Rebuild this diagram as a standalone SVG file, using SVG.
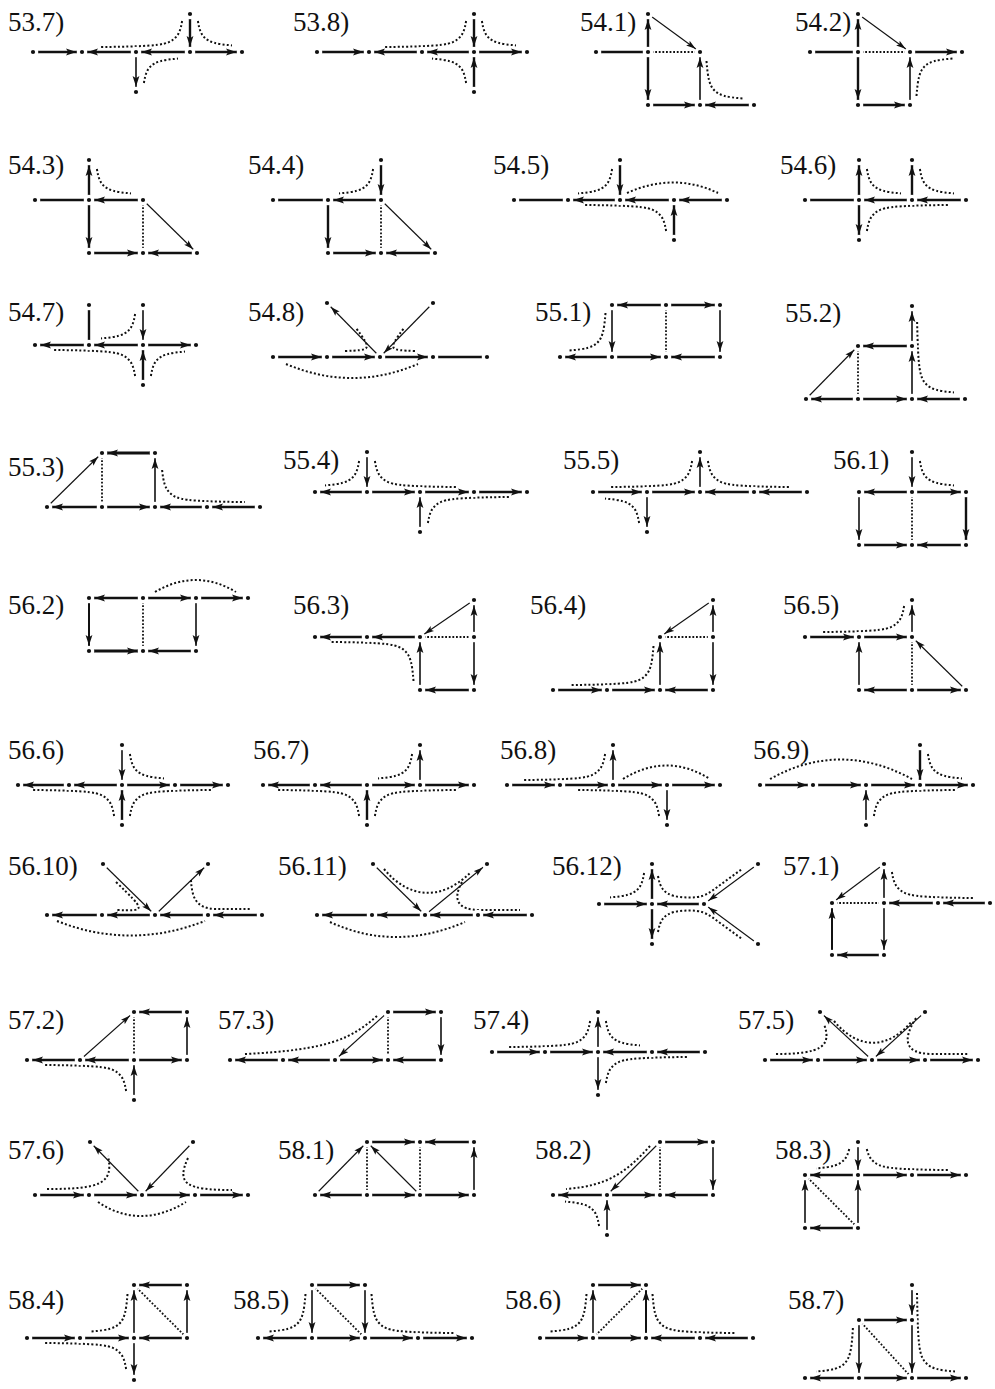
<svg xmlns="http://www.w3.org/2000/svg" width="995" height="1389" viewBox="0 0 995 1389">
<defs>
<marker id="ah" viewBox="0 0 11 8" markerWidth="11" markerHeight="8" refX="16" refY="4" orient="auto" markerUnits="userSpaceOnUse"><path d="M0,0.6 L10.5,4 L0,7.4 L2.2,4 z" fill="#111"/></marker>
<marker id="as" viewBox="0 0 10 7" markerWidth="10" markerHeight="7" refX="15" refY="3.5" orient="auto" markerUnits="userSpaceOnUse"><path d="M0,0.5 L9.5,3.5 L0,6.5 L2,3.5 z" fill="#111"/></marker>
<path id="hA" d="M7.9,-31 C9.2,-22.6 11.1,-17.8 14.5,-14.5 C19,-9.9 25.9,-7.9 42,-6.6" fill="none" stroke="#111" stroke-width="2" stroke-dasharray="2 2.2"/>
<path id="hB" d="M7.9,-31 C9.2,-22.6 11.1,-17.8 14.5,-14.5 C22,-6.9 30.4,-5.8 90,-4.9" fill="none" stroke="#111" stroke-width="2" stroke-dasharray="2 2.2"/>
<path id="hB2" d="M7.1,-37 C8.4,-24.5 10.4,-18.5 14.5,-14.5 C22,-6.9 30.4,-5.8 90,-4.9" fill="none" stroke="#111" stroke-width="2" stroke-dasharray="2 2.2"/>
<path id="hC" d="M6.5,-44 C7.8,-26.3 9.7,-19.2 14.5,-14.5 C19.1,-9.8 26.1,-7.8 43,-6.5" fill="none" stroke="#111" stroke-width="2" stroke-dasharray="2 2.2"/>
<path id="hD" d="M6.5,-44 C7.8,-26.3 9.7,-19.2 14.5,-14.5 C22,-6.9 30.4,-5.8 90,-4.9" fill="none" stroke="#111" stroke-width="2" stroke-dasharray="2 2.2"/>
<path id="hA0" d="M8.8,-26 C10.1,-20.6 11.8,-17.1 14.5,-14.5 C19,-9.9 25.9,-7.9 42,-6.6" fill="none" stroke="#111" stroke-width="2" stroke-dasharray="2 2.2"/>
<path id="hB0" d="M8.8,-26 C10.1,-20.6 11.8,-17.1 14.5,-14.5 C22,-6.9 30.4,-5.8 90,-4.9" fill="none" stroke="#111" stroke-width="2" stroke-dasharray="2 2.2"/>
<path id="hE" d="M5.1,-77 C6.2,-30.4 7.5,-21.4 14.5,-14.5 C19,-9.9 25.9,-7.9 42,-6.6" fill="none" stroke="#111" stroke-width="2" stroke-dasharray="2 2.2"/>
<path id="hF" d="M5,-85 C6,-30.5 7.1,-21.8 14.5,-14.5 C19.1,-9.8 26.1,-7.8 43,-6.5" fill="none" stroke="#111" stroke-width="2" stroke-dasharray="2 2.2"/>
<path id="hG" d="M6.1,-50 C7.3,-27.6 9.2,-19.7 14.5,-14.5 C19.1,-9.8 26.1,-7.8 43,-6.5" fill="none" stroke="#111" stroke-width="2" stroke-dasharray="2 2.2"/>
</defs>
<style>
.lb{font-family:"Liberation Serif","Times New Roman",serif;font-size:27px;fill:#111}
.k{stroke:#111;stroke-width:2.4;fill:none}
.ka{stroke:#111;stroke-width:2.4;fill:none;marker-end:url(#ah)}
.ma{stroke:#111;stroke-width:1.6;fill:none;marker-end:url(#ah)}
.ta{stroke:#111;stroke-width:1.1;fill:none;marker-end:url(#as)}
.d{stroke:#111;stroke-width:2;fill:none;stroke-dasharray:2 2.2}
.s{stroke:#111;stroke-width:1.8;fill:none;stroke-dasharray:1.8 1.8}
.n circle{fill:#111;stroke:#fff;stroke-width:6.4;paint-order:stroke}
</style>
<rect width="995" height="1389" fill="#fff"/>

<g id="q53_7">
<text class="lb" x="8" y="31">53.7)</text>
<g id="q53_7-edges">
<line class="ka" x1="33" y1="52" x2="82" y2="52"/><line class="ka" x1="136" y1="52" x2="82" y2="52"/><line class="ka" x1="190" y1="52" x2="136" y2="52"/><line class="ka" x1="190" y1="52" x2="242" y2="52"/><line class="ka" x1="190" y1="14" x2="190" y2="52"/><line class="ma" x1="136" y1="52" x2="136" y2="92"/>
<use href="#hB" transform="translate(190,52) scale(-1,1)"/><use href="#hA" transform="translate(190,52)"/><use href="#hA" transform="translate(136,52) scale(1,-1)"/>
</g>
<g id="q53_7-a" class="n"><circle cx="33" cy="52" r="2.1"/></g><g id="q53_7-b" class="n"><circle cx="82" cy="52" r="2.1"/></g><g id="q53_7-c" class="n"><circle cx="136" cy="52" r="2.1"/></g><g id="q53_7-d" class="n"><circle cx="190" cy="52" r="2.1"/></g><g id="q53_7-e" class="n"><circle cx="242" cy="52" r="2.1"/></g><g id="q53_7-t" class="n"><circle cx="190" cy="14" r="2.1"/></g><g id="q53_7-f" class="n"><circle cx="136" cy="92" r="2.1"/></g>
</g>

<g id="q53_8">
<text class="lb" x="293" y="31">53.8)</text>
<g id="q53_8-edges">
<line class="ka" x1="317" y1="52" x2="369" y2="52"/><line class="ka" x1="422" y1="52" x2="369" y2="52"/><line class="ka" x1="474" y1="52" x2="422" y2="52"/><line class="ka" x1="474" y1="52" x2="527" y2="52"/><line class="ka" x1="474" y1="14" x2="474" y2="52"/><line class="ka" x1="474" y1="92" x2="474" y2="52"/>
<use href="#hB" transform="translate(474,52) scale(-1,1)"/><use href="#hA" transform="translate(474,52)"/><use href="#hA" transform="translate(474,52) scale(-1,-1)"/>
</g>
<g id="q53_8-a" class="n"><circle cx="317" cy="52" r="2.1"/></g><g id="q53_8-b" class="n"><circle cx="369" cy="52" r="2.1"/></g><g id="q53_8-c" class="n"><circle cx="422" cy="52" r="2.1"/></g><g id="q53_8-d" class="n"><circle cx="474" cy="52" r="2.1"/></g><g id="q53_8-e" class="n"><circle cx="527" cy="52" r="2.1"/></g><g id="q53_8-t" class="n"><circle cx="474" cy="14" r="2.1"/></g><g id="q53_8-f" class="n"><circle cx="474" cy="92" r="2.1"/></g>
</g>

<g id="q54_1">
<text class="lb" x="580" y="31">54.1)</text>
<g id="q54_1-edges">
<line class="k" x1="596" y1="52" x2="648" y2="52"/><line class="ka" x1="648" y1="52" x2="648" y2="14"/><line class="ka" x1="648" y1="52" x2="648" y2="105"/><line class="ta" x1="648" y1="14" x2="700" y2="52"/><line class="s" x1="648" y1="52" x2="700" y2="52"/><line class="ka" x1="648" y1="105" x2="700" y2="105"/><line class="ka" x1="754" y1="105" x2="700" y2="105"/><line class="ma" x1="700" y1="105" x2="700" y2="52"/>
<use href="#hC" transform="translate(700,105)"/>
</g>
<g id="q54_1-l" class="n"><circle cx="596" cy="52" r="2.1"/></g><g id="q54_1-m" class="n"><circle cx="648" cy="52" r="2.1"/></g><g id="q54_1-r" class="n"><circle cx="700" cy="52" r="2.1"/></g><g id="q54_1-t" class="n"><circle cx="648" cy="14" r="2.1"/></g><g id="q54_1-p" class="n"><circle cx="648" cy="105" r="2.1"/></g><g id="q54_1-q" class="n"><circle cx="700" cy="105" r="2.1"/></g><g id="q54_1-s" class="n"><circle cx="754" cy="105" r="2.1"/></g>
</g>

<g id="q54_2">
<text class="lb" x="795" y="31">54.2)</text>
<g id="q54_2-edges">
<line class="k" x1="810" y1="52" x2="858" y2="52"/><line class="ka" x1="858" y1="52" x2="858" y2="14"/><line class="ka" x1="858" y1="52" x2="858" y2="105"/><line class="ta" x1="858" y1="14" x2="910" y2="52"/><line class="s" x1="858" y1="52" x2="910" y2="52"/><line class="ka" x1="910" y1="52" x2="962" y2="52"/><line class="ka" x1="858" y1="105" x2="910" y2="105"/><line class="ma" x1="910" y1="105" x2="910" y2="52"/>
<use href="#hC" transform="translate(910,52) scale(1,-1)"/>
</g>
<g id="q54_2-l" class="n"><circle cx="810" cy="52" r="2.1"/></g><g id="q54_2-m" class="n"><circle cx="858" cy="52" r="2.1"/></g><g id="q54_2-r" class="n"><circle cx="910" cy="52" r="2.1"/></g><g id="q54_2-e" class="n"><circle cx="962" cy="52" r="2.1"/></g><g id="q54_2-t" class="n"><circle cx="858" cy="14" r="2.1"/></g><g id="q54_2-p" class="n"><circle cx="858" cy="105" r="2.1"/></g><g id="q54_2-q" class="n"><circle cx="910" cy="105" r="2.1"/></g>
</g>

<g id="q54_3">
<text class="lb" x="8" y="174">54.3)</text>
<g id="q54_3-edges">
<line class="k" x1="35" y1="200" x2="89" y2="200"/><line class="ka" x1="89" y1="200" x2="89" y2="160"/><line class="ka" x1="143" y1="200" x2="89" y2="200"/><line class="ka" x1="89" y1="200" x2="89" y2="253"/><line class="s" x1="143" y1="200" x2="143" y2="253"/><line class="ta" x1="143" y1="200" x2="197" y2="253"/><line class="ka" x1="89" y1="253" x2="143" y2="253"/><line class="ka" x1="197" y1="253" x2="143" y2="253"/>
<use href="#hA" transform="translate(89,200)"/>
</g>
<g id="q54_3-l" class="n"><circle cx="35" cy="200" r="2.1"/></g><g id="q54_3-m" class="n"><circle cx="89" cy="200" r="2.1"/></g><g id="q54_3-r" class="n"><circle cx="143" cy="200" r="2.1"/></g><g id="q54_3-t" class="n"><circle cx="89" cy="160" r="2.1"/></g><g id="q54_3-p" class="n"><circle cx="89" cy="253" r="2.1"/></g><g id="q54_3-q" class="n"><circle cx="143" cy="253" r="2.1"/></g><g id="q54_3-s" class="n"><circle cx="197" cy="253" r="2.1"/></g>
</g>

<g id="q54_4">
<text class="lb" x="248" y="174">54.4)</text>
<g id="q54_4-edges">
<line class="k" x1="273" y1="200" x2="328" y2="200"/><line class="ka" x1="381" y1="200" x2="328" y2="200"/><line class="ka" x1="381" y1="160" x2="381" y2="200"/><line class="ka" x1="328" y1="200" x2="328" y2="253"/><line class="s" x1="381" y1="200" x2="381" y2="253"/><line class="ta" x1="381" y1="200" x2="435" y2="253"/><line class="ka" x1="328" y1="253" x2="381" y2="253"/><line class="ka" x1="435" y1="253" x2="381" y2="253"/>
<use href="#hA" transform="translate(381,200) scale(-1,1)"/>
</g>
<g id="q54_4-l" class="n"><circle cx="273" cy="200" r="2.1"/></g><g id="q54_4-m" class="n"><circle cx="328" cy="200" r="2.1"/></g><g id="q54_4-r" class="n"><circle cx="381" cy="200" r="2.1"/></g><g id="q54_4-t" class="n"><circle cx="381" cy="160" r="2.1"/></g><g id="q54_4-p" class="n"><circle cx="328" cy="253" r="2.1"/></g><g id="q54_4-q" class="n"><circle cx="381" cy="253" r="2.1"/></g><g id="q54_4-s" class="n"><circle cx="435" cy="253" r="2.1"/></g>
</g>

<g id="q54_5">
<text class="lb" x="493" y="174">54.5)</text>
<g id="q54_5-edges">
<line class="k" x1="514" y1="200" x2="568" y2="200"/><line class="ka" x1="620" y1="200" x2="568" y2="200"/><line class="ka" x1="674" y1="200" x2="620" y2="200"/><line class="ka" x1="727" y1="200" x2="674" y2="200"/><line class="ka" x1="620" y1="160" x2="620" y2="200"/><line class="ka" x1="674" y1="240" x2="674" y2="200"/>
<use href="#hA" transform="translate(620,200) scale(-1,1)"/><path class="d" d="M627,193 Q674,172 718,193"/><use href="#hB" transform="translate(674,200) scale(-1,-1)"/>
</g>
<g id="q54_5-a" class="n"><circle cx="514" cy="200" r="2.1"/></g><g id="q54_5-b" class="n"><circle cx="568" cy="200" r="2.1"/></g><g id="q54_5-c" class="n"><circle cx="620" cy="200" r="2.1"/></g><g id="q54_5-d" class="n"><circle cx="674" cy="200" r="2.1"/></g><g id="q54_5-e" class="n"><circle cx="727" cy="200" r="2.1"/></g><g id="q54_5-t" class="n"><circle cx="620" cy="160" r="2.1"/></g><g id="q54_5-f" class="n"><circle cx="674" cy="240" r="2.1"/></g>
</g>

<g id="q54_6">
<text class="lb" x="780" y="174">54.6)</text>
<g id="q54_6-edges">
<line class="k" x1="805" y1="200" x2="859" y2="200"/><line class="ka" x1="859" y1="200" x2="859" y2="160"/><line class="ka" x1="912" y1="200" x2="859" y2="200"/><line class="ka" x1="912" y1="200" x2="912" y2="160"/><line class="ka" x1="966" y1="200" x2="912" y2="200"/><line class="ka" x1="859" y1="200" x2="859" y2="240"/>
<use href="#hA" transform="translate(859,200)"/><use href="#hA" transform="translate(912,200)"/><use href="#hB" transform="translate(859,200) scale(1,-1)"/>
</g>
<g id="q54_6-a" class="n"><circle cx="805" cy="200" r="2.1"/></g><g id="q54_6-b" class="n"><circle cx="859" cy="200" r="2.1"/></g><g id="q54_6-c" class="n"><circle cx="912" cy="200" r="2.1"/></g><g id="q54_6-d" class="n"><circle cx="966" cy="200" r="2.1"/></g><g id="q54_6-t1" class="n"><circle cx="859" cy="160" r="2.1"/></g><g id="q54_6-t2" class="n"><circle cx="912" cy="160" r="2.1"/></g><g id="q54_6-f" class="n"><circle cx="859" cy="240" r="2.1"/></g>
</g>

<g id="q54_7">
<text class="lb" x="8" y="321">54.7)</text>
<g id="q54_7-edges">
<line class="ka" x1="89" y1="345" x2="35" y2="345"/><line class="ka" x1="143" y1="345" x2="89" y2="345"/><line class="ka" x1="143" y1="345" x2="196" y2="345"/><line class="k" x1="89" y1="305" x2="89" y2="345"/><line class="ma" x1="143" y1="305" x2="143" y2="345"/><line class="ka" x1="143" y1="385" x2="143" y2="345"/>
<use href="#hA" transform="translate(143,345) scale(-1,1)"/><use href="#hA" transform="translate(143,345) scale(1,-1)"/><use href="#hB" transform="translate(143,345) scale(-1,-1)"/>
</g>
<g id="q54_7-a" class="n"><circle cx="35" cy="345" r="2.1"/></g><g id="q54_7-b" class="n"><circle cx="89" cy="345" r="2.1"/></g><g id="q54_7-c" class="n"><circle cx="143" cy="345" r="2.1"/></g><g id="q54_7-d" class="n"><circle cx="196" cy="345" r="2.1"/></g><g id="q54_7-t1" class="n"><circle cx="89" cy="305" r="2.1"/></g><g id="q54_7-t2" class="n"><circle cx="143" cy="305" r="2.1"/></g><g id="q54_7-f" class="n"><circle cx="143" cy="385" r="2.1"/></g>
</g>

<g id="q54_8">
<text class="lb" x="248" y="321">54.8)</text>
<g id="q54_8-edges">
<line class="ka" x1="273" y1="357" x2="327" y2="357"/><line class="ka" x1="327" y1="357" x2="380" y2="357"/><line class="ka" x1="380" y1="357" x2="433" y2="357"/><line class="k" x1="433" y1="357" x2="487" y2="357"/><line class="ta" x1="380" y1="357" x2="327" y2="303"/><line class="ta" x1="433" y1="303" x2="380" y2="357"/>
<path class="d" d="M345,351 C372,350 372,350 356,328"/><path class="d" d="M415,351 C388,350 388,350 404,328"/><path class="d" d="M286,364 Q352,392 418,364"/>
</g>
<g id="q54_8-a" class="n"><circle cx="273" cy="357" r="2.1"/></g><g id="q54_8-b" class="n"><circle cx="327" cy="357" r="2.1"/></g><g id="q54_8-c" class="n"><circle cx="380" cy="357" r="2.1"/></g><g id="q54_8-d" class="n"><circle cx="433" cy="357" r="2.1"/></g><g id="q54_8-e" class="n"><circle cx="487" cy="357" r="2.1"/></g><g id="q54_8-t1" class="n"><circle cx="327" cy="303" r="2.1"/></g><g id="q54_8-t2" class="n"><circle cx="433" cy="303" r="2.1"/></g>
</g>

<g id="q55_1">
<text class="lb" x="535" y="321">55.1)</text>
<g id="q55_1-edges">
<line class="ka" x1="666" y1="305" x2="612" y2="305"/><line class="ka" x1="666" y1="305" x2="720" y2="305"/><line class="ma" x1="612" y1="305" x2="612" y2="357"/><line class="s" x1="666" y1="305" x2="666" y2="357"/><line class="ma" x1="720" y1="305" x2="720" y2="357"/><line class="ka" x1="612" y1="357" x2="560" y2="357"/><line class="ka" x1="612" y1="357" x2="666" y2="357"/><line class="ka" x1="720" y1="357" x2="666" y2="357"/>
<use href="#hC" transform="translate(612,357) scale(-1,1)"/>
</g>
<g id="q55_1-tl" class="n"><circle cx="612" cy="305" r="2.1"/></g><g id="q55_1-tm" class="n"><circle cx="666" cy="305" r="2.1"/></g><g id="q55_1-tr" class="n"><circle cx="720" cy="305" r="2.1"/></g><g id="q55_1-a" class="n"><circle cx="560" cy="357" r="2.1"/></g><g id="q55_1-bl" class="n"><circle cx="612" cy="357" r="2.1"/></g><g id="q55_1-bm" class="n"><circle cx="666" cy="357" r="2.1"/></g><g id="q55_1-br" class="n"><circle cx="720" cy="357" r="2.1"/></g>
</g>

<g id="q55_2">
<text class="lb" x="785" y="322">55.2)</text>
<g id="q55_2-edges">
<line class="ka" x1="912" y1="346" x2="858" y2="346"/><line class="ma" x1="912" y1="346" x2="912" y2="306"/><line class="ta" x1="806" y1="399" x2="858" y2="346"/><line class="s" x1="858" y1="346" x2="858" y2="399"/><line class="ma" x1="912" y1="399" x2="912" y2="346"/><line class="ka" x1="858" y1="399" x2="806" y2="399"/><line class="ka" x1="858" y1="399" x2="912" y2="399"/><line class="ka" x1="965" y1="399" x2="912" y2="399"/>
<use href="#hE" transform="translate(912,399)"/>
</g>
<g id="q55_2-t" class="n"><circle cx="912" cy="306" r="2.1"/></g><g id="q55_2-ml" class="n"><circle cx="858" cy="346" r="2.1"/></g><g id="q55_2-mr" class="n"><circle cx="912" cy="346" r="2.1"/></g><g id="q55_2-a" class="n"><circle cx="806" cy="399" r="2.1"/></g><g id="q55_2-b" class="n"><circle cx="858" cy="399" r="2.1"/></g><g id="q55_2-c" class="n"><circle cx="912" cy="399" r="2.1"/></g><g id="q55_2-d" class="n"><circle cx="965" cy="399" r="2.1"/></g>
</g>

<g id="q55_3">
<text class="lb" x="8" y="476">55.3)</text>
<g id="q55_3-edges">
<line class="ka" x1="155" y1="453" x2="102" y2="453" style="stroke-width:3"/><line class="ta" x1="47" y1="507" x2="102" y2="453"/><line class="s" x1="102" y1="453" x2="102" y2="507"/><line class="ma" x1="155" y1="507" x2="155" y2="453"/><line class="ka" x1="102" y1="507" x2="47" y2="507"/><line class="ka" x1="102" y1="507" x2="155" y2="507"/><line class="ka" x1="207" y1="507" x2="155" y2="507"/><line class="ka" x1="260" y1="507" x2="207" y2="507"/>
<use href="#hB2" transform="translate(155,507)"/>
</g>
<g id="q55_3-tl" class="n"><circle cx="102" cy="453" r="2.1"/></g><g id="q55_3-tr" class="n"><circle cx="155" cy="453" r="2.1"/></g><g id="q55_3-a" class="n"><circle cx="47" cy="507" r="2.1"/></g><g id="q55_3-b" class="n"><circle cx="102" cy="507" r="2.1"/></g><g id="q55_3-c" class="n"><circle cx="155" cy="507" r="2.1"/></g><g id="q55_3-d" class="n"><circle cx="207" cy="507" r="2.1"/></g><g id="q55_3-e" class="n"><circle cx="260" cy="507" r="2.1"/></g>
</g>

<g id="q55_4">
<text class="lb" x="283" y="469">55.4)</text>
<g id="q55_4-edges">
<line class="ka" x1="367" y1="492" x2="315" y2="492"/><line class="ka" x1="367" y1="492" x2="420" y2="492"/><line class="ka" x1="420" y1="492" x2="474" y2="492"/><line class="ka" x1="474" y1="492" x2="527" y2="492"/><line class="ma" x1="367" y1="452" x2="367" y2="492"/><line class="ma" x1="420" y1="532" x2="420" y2="492"/>
<use href="#hA" transform="translate(367,492) scale(-1,1)"/><use href="#hB" transform="translate(367,492)"/><use href="#hB" transform="translate(420,492) scale(1,-1)"/>
</g>
<g id="q55_4-t" class="n"><circle cx="367" cy="452" r="2.1"/></g><g id="q55_4-a" class="n"><circle cx="315" cy="492" r="2.1"/></g><g id="q55_4-b" class="n"><circle cx="367" cy="492" r="2.1"/></g><g id="q55_4-c" class="n"><circle cx="420" cy="492" r="2.1"/></g><g id="q55_4-d" class="n"><circle cx="474" cy="492" r="2.1"/></g><g id="q55_4-e" class="n"><circle cx="527" cy="492" r="2.1"/></g><g id="q55_4-f" class="n"><circle cx="420" cy="532" r="2.1"/></g>
</g>

<g id="q55_5">
<text class="lb" x="563" y="469">55.5)</text>
<g id="q55_5-edges">
<line class="ka" x1="593" y1="492" x2="647" y2="492"/><line class="ka" x1="647" y1="492" x2="700" y2="492"/><line class="ka" x1="754" y1="492" x2="700" y2="492"/><line class="ka" x1="807" y1="492" x2="754" y2="492"/><line class="ma" x1="700" y1="492" x2="700" y2="452"/><line class="ma" x1="647" y1="492" x2="647" y2="532"/>
<use href="#hB" transform="translate(700,492) scale(-1,1)"/><use href="#hB" transform="translate(700,492)"/><use href="#hA" transform="translate(647,492) scale(-1,-1)"/>
</g>
<g id="q55_5-t" class="n"><circle cx="700" cy="452" r="2.1"/></g><g id="q55_5-a" class="n"><circle cx="593" cy="492" r="2.1"/></g><g id="q55_5-b" class="n"><circle cx="647" cy="492" r="2.1"/></g><g id="q55_5-c" class="n"><circle cx="700" cy="492" r="2.1"/></g><g id="q55_5-d" class="n"><circle cx="754" cy="492" r="2.1"/></g><g id="q55_5-e" class="n"><circle cx="807" cy="492" r="2.1"/></g><g id="q55_5-f" class="n"><circle cx="647" cy="532" r="2.1"/></g>
</g>

<g id="q56_1">
<text class="lb" x="833" y="469">56.1)</text>
<g id="q56_1-edges">
<line class="ma" x1="912" y1="452" x2="912" y2="492"/><line class="ka" x1="912" y1="492" x2="859" y2="492"/><line class="ka" x1="912" y1="492" x2="966" y2="492"/><line class="ma" x1="859" y1="492" x2="859" y2="545"/><line class="ka" x1="966" y1="492" x2="966" y2="545"/><line class="ka" x1="859" y1="545" x2="912" y2="545"/><line class="ka" x1="966" y1="545" x2="912" y2="545"/><line class="s" x1="912" y1="492" x2="912" y2="545"/>
<use href="#hA" transform="translate(912,492)"/>
</g>
<g id="q56_1-t" class="n"><circle cx="912" cy="452" r="2.1"/></g><g id="q56_1-a" class="n"><circle cx="859" cy="492" r="2.1"/></g><g id="q56_1-b" class="n"><circle cx="912" cy="492" r="2.1"/></g><g id="q56_1-c" class="n"><circle cx="966" cy="492" r="2.1"/></g><g id="q56_1-p" class="n"><circle cx="859" cy="545" r="2.1"/></g><g id="q56_1-q" class="n"><circle cx="912" cy="545" r="2.1"/></g><g id="q56_1-r" class="n"><circle cx="966" cy="545" r="2.1"/></g>
</g>

<g id="q56_2">
<text class="lb" x="8" y="614">56.2)</text>
<g id="q56_2-edges">
<line class="ka" x1="143" y1="598" x2="89" y2="598"/><line class="ka" x1="143" y1="598" x2="196" y2="598"/><line class="ka" x1="196" y1="598" x2="248" y2="598"/><line class="ka" x1="89" y1="598" x2="89" y2="651" style="stroke-width:2"/><line class="ma" x1="196" y1="598" x2="196" y2="651"/><line class="ka" x1="89" y1="651" x2="143" y2="651" style="stroke-width:3"/><line class="ka" x1="196" y1="651" x2="143" y2="651"/><line class="s" x1="143" y1="598" x2="143" y2="651"/>
<path class="d" d="M155,592 Q196,568 236,592"/>
</g>
<g id="q56_2-a" class="n"><circle cx="89" cy="598" r="2.1"/></g><g id="q56_2-b" class="n"><circle cx="143" cy="598" r="2.1"/></g><g id="q56_2-c" class="n"><circle cx="196" cy="598" r="2.1"/></g><g id="q56_2-d" class="n"><circle cx="248" cy="598" r="2.1"/></g><g id="q56_2-p" class="n"><circle cx="89" cy="651" r="2.1"/></g><g id="q56_2-q" class="n"><circle cx="143" cy="651" r="2.1"/></g><g id="q56_2-r" class="n"><circle cx="196" cy="651" r="2.1"/></g>
</g>

<g id="q56_3">
<text class="lb" x="293" y="614">56.3)</text>
<g id="q56_3-edges">
<line class="ka" x1="367" y1="637" x2="315" y2="637"/><line class="ka" x1="420" y1="637" x2="367" y2="637"/><line class="s" x1="420" y1="637" x2="474" y2="637"/><line class="ta" x1="474" y1="600" x2="420" y2="637"/><line class="ma" x1="474" y1="637" x2="474" y2="600"/><line class="ma" x1="474" y1="637" x2="474" y2="690"/><line class="ma" x1="420" y1="690" x2="420" y2="637"/><line class="ka" x1="474" y1="690" x2="420" y2="690"/>
<use href="#hD" transform="translate(420,637) scale(-1,-1)"/>
</g>
<g id="q56_3-t" class="n"><circle cx="474" cy="600" r="2.1"/></g><g id="q56_3-a" class="n"><circle cx="315" cy="637" r="2.1"/></g><g id="q56_3-b" class="n"><circle cx="367" cy="637" r="2.1"/></g><g id="q56_3-c" class="n"><circle cx="420" cy="637" r="2.1"/></g><g id="q56_3-d" class="n"><circle cx="474" cy="637" r="2.1"/></g><g id="q56_3-p" class="n"><circle cx="420" cy="690" r="2.1"/></g><g id="q56_3-q" class="n"><circle cx="474" cy="690" r="2.1"/></g>
</g>

<g id="q56_4">
<text class="lb" x="530" y="614">56.4)</text>
<g id="q56_4-edges">
<line class="ta" x1="713" y1="600" x2="660" y2="637"/><line class="s" x1="660" y1="637" x2="713" y2="637"/><line class="ma" x1="713" y1="637" x2="713" y2="600"/><line class="ma" x1="713" y1="637" x2="713" y2="690"/><line class="ma" x1="660" y1="690" x2="660" y2="637"/><line class="ka" x1="553" y1="690" x2="607" y2="690"/><line class="ka" x1="607" y1="690" x2="660" y2="690"/><line class="ka" x1="713" y1="690" x2="660" y2="690"/>
<use href="#hD" transform="translate(660,690) scale(-1,1)"/>
</g>
<g id="q56_4-t" class="n"><circle cx="713" cy="600" r="2.1"/></g><g id="q56_4-c" class="n"><circle cx="660" cy="637" r="2.1"/></g><g id="q56_4-d" class="n"><circle cx="713" cy="637" r="2.1"/></g><g id="q56_4-a" class="n"><circle cx="553" cy="690" r="2.1"/></g><g id="q56_4-b" class="n"><circle cx="607" cy="690" r="2.1"/></g><g id="q56_4-p" class="n"><circle cx="660" cy="690" r="2.1"/></g><g id="q56_4-q" class="n"><circle cx="713" cy="690" r="2.1"/></g>
</g>

<g id="q56_5">
<text class="lb" x="783" y="614">56.5)</text>
<g id="q56_5-edges">
<line class="ka" x1="805" y1="637" x2="859" y2="637"/><line class="ka" x1="859" y1="637" x2="912" y2="637"/><line class="ma" x1="912" y1="637" x2="912" y2="600"/><line class="ma" x1="859" y1="690" x2="859" y2="637"/><line class="s" x1="912" y1="637" x2="912" y2="690"/><line class="ta" x1="966" y1="690" x2="912" y2="637"/><line class="ka" x1="912" y1="690" x2="859" y2="690"/><line class="ka" x1="912" y1="690" x2="966" y2="690"/>
<use href="#hB" transform="translate(912,637) scale(-1,1)"/>
</g>
<g id="q56_5-t" class="n"><circle cx="912" cy="600" r="2.1"/></g><g id="q56_5-a" class="n"><circle cx="805" cy="637" r="2.1"/></g><g id="q56_5-b" class="n"><circle cx="859" cy="637" r="2.1"/></g><g id="q56_5-c" class="n"><circle cx="912" cy="637" r="2.1"/></g><g id="q56_5-p" class="n"><circle cx="859" cy="690" r="2.1"/></g><g id="q56_5-q" class="n"><circle cx="912" cy="690" r="2.1"/></g><g id="q56_5-r" class="n"><circle cx="966" cy="690" r="2.1"/></g>
</g>

<g id="q56_6">
<text class="lb" x="8" y="759">56.6)</text>
<g id="q56_6-edges">
<line class="ka" x1="69" y1="785" x2="18" y2="785"/><line class="ka" x1="122" y1="785" x2="69" y2="785"/><line class="ka" x1="122" y1="785" x2="175" y2="785"/><line class="ka" x1="175" y1="785" x2="228" y2="785"/><line class="ma" x1="122" y1="745" x2="122" y2="785"/><line class="ka" x1="122" y1="825" x2="122" y2="785"/>
<use href="#hA" transform="translate(122,785)"/><use href="#hB" transform="translate(122,785) scale(-1,-1)"/><use href="#hB" transform="translate(122,785) scale(1,-1)"/>
</g>
<g id="q56_6-t" class="n"><circle cx="122" cy="745" r="2.1"/></g><g id="q56_6-a" class="n"><circle cx="18" cy="785" r="2.1"/></g><g id="q56_6-b" class="n"><circle cx="69" cy="785" r="2.1"/></g><g id="q56_6-c" class="n"><circle cx="122" cy="785" r="2.1"/></g><g id="q56_6-d" class="n"><circle cx="175" cy="785" r="2.1"/></g><g id="q56_6-e" class="n"><circle cx="228" cy="785" r="2.1"/></g><g id="q56_6-f" class="n"><circle cx="122" cy="825" r="2.1"/></g>
</g>

<g id="q56_7">
<text class="lb" x="253" y="759">56.7)</text>
<g id="q56_7-edges">
<line class="ka" x1="315" y1="785" x2="263" y2="785"/><line class="ka" x1="367" y1="785" x2="315" y2="785"/><line class="ka" x1="367" y1="785" x2="420" y2="785"/><line class="ka" x1="420" y1="785" x2="474" y2="785"/><line class="ma" x1="420" y1="785" x2="420" y2="745"/><line class="ka" x1="367" y1="825" x2="367" y2="785"/>
<use href="#hA" transform="translate(420,785) scale(-1,1)"/><use href="#hB" transform="translate(367,785) scale(-1,-1)"/><use href="#hB" transform="translate(367,785) scale(1,-1)"/>
</g>
<g id="q56_7-t" class="n"><circle cx="420" cy="745" r="2.1"/></g><g id="q56_7-a" class="n"><circle cx="263" cy="785" r="2.1"/></g><g id="q56_7-b" class="n"><circle cx="315" cy="785" r="2.1"/></g><g id="q56_7-c" class="n"><circle cx="367" cy="785" r="2.1"/></g><g id="q56_7-d" class="n"><circle cx="420" cy="785" r="2.1"/></g><g id="q56_7-e" class="n"><circle cx="474" cy="785" r="2.1"/></g><g id="q56_7-f" class="n"><circle cx="367" cy="825" r="2.1"/></g>
</g>

<g id="q56_8">
<text class="lb" x="500" y="759">56.8)</text>
<g id="q56_8-edges">
<line class="ka" x1="507" y1="785" x2="560" y2="785"/><line class="ka" x1="560" y1="785" x2="613" y2="785"/><line class="ka" x1="613" y1="785" x2="667" y2="785"/><line class="ka" x1="667" y1="785" x2="720" y2="785"/><line class="ma" x1="613" y1="785" x2="613" y2="745"/><line class="ma" x1="667" y1="785" x2="667" y2="825"/>
<use href="#hB" transform="translate(613,785) scale(-1,1)"/><path class="d" d="M623,779 Q667,752 710,779"/><use href="#hB" transform="translate(667,785) scale(-1,-1)"/>
</g>
<g id="q56_8-t" class="n"><circle cx="613" cy="745" r="2.1"/></g><g id="q56_8-a" class="n"><circle cx="507" cy="785" r="2.1"/></g><g id="q56_8-b" class="n"><circle cx="560" cy="785" r="2.1"/></g><g id="q56_8-c" class="n"><circle cx="613" cy="785" r="2.1"/></g><g id="q56_8-d" class="n"><circle cx="667" cy="785" r="2.1"/></g><g id="q56_8-e" class="n"><circle cx="720" cy="785" r="2.1"/></g><g id="q56_8-f" class="n"><circle cx="667" cy="825" r="2.1"/></g>
</g>

<g id="q56_9">
<text class="lb" x="753" y="759">56.9)</text>
<g id="q56_9-edges">
<line class="ka" x1="760" y1="785" x2="813" y2="785"/><line class="ka" x1="813" y1="785" x2="866" y2="785"/><line class="ka" x1="866" y1="785" x2="920" y2="785"/><line class="ka" x1="920" y1="785" x2="973" y2="785"/><line class="ka" x1="920" y1="745" x2="920" y2="785"/><line class="ma" x1="866" y1="825" x2="866" y2="785"/>
<path class="d" d="M770,779 Q840,740 912,779"/><use href="#hA" transform="translate(920,785)"/><use href="#hB" transform="translate(866,785) scale(1,-1)"/>
</g>
<g id="q56_9-t" class="n"><circle cx="920" cy="745" r="2.1"/></g><g id="q56_9-a" class="n"><circle cx="760" cy="785" r="2.1"/></g><g id="q56_9-b" class="n"><circle cx="813" cy="785" r="2.1"/></g><g id="q56_9-c" class="n"><circle cx="866" cy="785" r="2.1"/></g><g id="q56_9-d" class="n"><circle cx="920" cy="785" r="2.1"/></g><g id="q56_9-e" class="n"><circle cx="973" cy="785" r="2.1"/></g><g id="q56_9-f" class="n"><circle cx="866" cy="825" r="2.1"/></g>
</g>

<g id="q56_10">
<text class="lb" x="8" y="875">56.10)</text>
<g id="q56_10-edges">
<line class="ka" x1="102" y1="915" x2="47" y2="915"/><line class="ka" x1="155" y1="915" x2="102" y2="915"/><line class="ka" x1="208" y1="915" x2="155" y2="915"/><line class="ka" x1="262" y1="915" x2="208" y2="915"/><line class="ta" x1="103" y1="864" x2="155" y2="915"/><line class="ta" x1="155" y1="915" x2="208" y2="864"/>
<path class="d" d="M116,882 C146,911 146,911 117,910"/><path class="d" d="M191,880 C192,898 196,908 215,909 L250,909"/><path class="d" d="M57,921 Q130,950 205,921"/>
</g>
<g id="q56_10-t1" class="n"><circle cx="103" cy="864" r="2.1"/></g><g id="q56_10-t2" class="n"><circle cx="208" cy="864" r="2.1"/></g><g id="q56_10-a" class="n"><circle cx="47" cy="915" r="2.1"/></g><g id="q56_10-b" class="n"><circle cx="102" cy="915" r="2.1"/></g><g id="q56_10-c" class="n"><circle cx="155" cy="915" r="2.1"/></g><g id="q56_10-d" class="n"><circle cx="208" cy="915" r="2.1"/></g><g id="q56_10-e" class="n"><circle cx="262" cy="915" r="2.1"/></g>
</g>

<g id="q56_11">
<text class="lb" x="278" y="875">56.11)</text>
<g id="q56_11-edges">
<line class="ka" x1="372" y1="915" x2="317" y2="915"/><line class="ka" x1="425" y1="915" x2="372" y2="915"/><line class="ka" x1="478" y1="915" x2="425" y2="915"/><line class="ka" x1="532" y1="915" x2="478" y2="915"/><line class="ta" x1="373" y1="864" x2="425" y2="915"/><line class="ta" x1="425" y1="915" x2="487" y2="864"/>
<path class="d" d="M384,869 C408,898 440,902 470,873"/><path class="d" d="M462,882 C452,900 458,910 480,910 L520,910"/><path class="d" d="M330,922 Q395,952 465,922"/>
</g>
<g id="q56_11-t1" class="n"><circle cx="373" cy="864" r="2.1"/></g><g id="q56_11-t2" class="n"><circle cx="487" cy="864" r="2.1"/></g><g id="q56_11-a" class="n"><circle cx="317" cy="915" r="2.1"/></g><g id="q56_11-b" class="n"><circle cx="372" cy="915" r="2.1"/></g><g id="q56_11-c" class="n"><circle cx="425" cy="915" r="2.1"/></g><g id="q56_11-d" class="n"><circle cx="478" cy="915" r="2.1"/></g><g id="q56_11-e" class="n"><circle cx="532" cy="915" r="2.1"/></g>
</g>

<g id="q56_12">
<text class="lb" x="552" y="875">56.12)</text>
<g id="q56_12-edges">
<line class="ka" x1="599" y1="904" x2="652" y2="904"/><line class="ka" x1="704" y1="904" x2="652" y2="904"/><line class="ka" x1="652" y1="904" x2="652" y2="864"/><line class="ka" x1="652" y1="904" x2="652" y2="944"/><line class="ta" x1="758" y1="864" x2="704" y2="904"/><line class="ta" x1="758" y1="944" x2="704" y2="904"/>
<use href="#hA" transform="translate(652,904) scale(-1,1)"/><path class="d" d="M658,876 C660,888 664,893 674,896 C684,898 696,898 702,896 C708,894 712,891 716,888 L742,869"/><path class="d" d="M658,932 C660,920 664,915 674,912 C684,910 696,910 702,912 C708,914 712,917 716,920 L742,939"/>
</g>
<g id="q56_12-t" class="n"><circle cx="652" cy="864" r="2.1"/></g><g id="q56_12-a" class="n"><circle cx="599" cy="904" r="2.1"/></g><g id="q56_12-b" class="n"><circle cx="652" cy="904" r="2.1"/></g><g id="q56_12-c" class="n"><circle cx="704" cy="904" r="2.1"/></g><g id="q56_12-f" class="n"><circle cx="652" cy="944" r="2.1"/></g><g id="q56_12-tr" class="n"><circle cx="758" cy="864" r="2.1"/></g><g id="q56_12-br" class="n"><circle cx="758" cy="944" r="2.1"/></g>
</g>

<g id="q57_1">
<text class="lb" x="783" y="875">57.1)</text>
<g id="q57_1-edges">
<line class="ta" x1="884" y1="864" x2="832" y2="903"/><line class="ma" x1="884" y1="903" x2="884" y2="864"/><line class="ka" x1="938" y1="903" x2="884" y2="903"/><line class="ka" x1="990" y1="903" x2="938" y2="903"/><line class="s" x1="832" y1="903" x2="884" y2="903"/><line class="ka" x1="832" y1="955" x2="832" y2="903" style="stroke-width:2"/><line class="ma" x1="884" y1="903" x2="884" y2="955"/><line class="ka" x1="884" y1="955" x2="832" y2="955"/>
<use href="#hB" transform="translate(884,903)"/>
</g>
<g id="q57_1-t" class="n"><circle cx="884" cy="864" r="2.1"/></g><g id="q57_1-a" class="n"><circle cx="832" cy="903" r="2.1"/></g><g id="q57_1-b" class="n"><circle cx="884" cy="903" r="2.1"/></g><g id="q57_1-c" class="n"><circle cx="938" cy="903" r="2.1"/></g><g id="q57_1-d" class="n"><circle cx="990" cy="903" r="2.1"/></g><g id="q57_1-p" class="n"><circle cx="832" cy="955" r="2.1"/></g><g id="q57_1-q" class="n"><circle cx="884" cy="955" r="2.1"/></g>
</g>

<g id="q57_2">
<text class="lb" x="8" y="1029">57.2)</text>
<g id="q57_2-edges">
<line class="ka" x1="187" y1="1012" x2="134" y2="1012"/><line class="ta" x1="80" y1="1060" x2="134" y2="1012"/><line class="s" x1="134" y1="1012" x2="134" y2="1060"/><line class="ma" x1="187" y1="1060" x2="187" y2="1012"/><line class="ka" x1="80" y1="1060" x2="27" y2="1060"/><line class="ka" x1="134" y1="1060" x2="80" y2="1060"/><line class="ka" x1="134" y1="1060" x2="187" y2="1060"/><line class="ma" x1="134" y1="1100" x2="134" y2="1060"/>
<use href="#hB" transform="translate(134,1060) scale(-1,-1)"/>
</g>
<g id="q57_2-tl" class="n"><circle cx="134" cy="1012" r="2.1"/></g><g id="q57_2-tr" class="n"><circle cx="187" cy="1012" r="2.1"/></g><g id="q57_2-a" class="n"><circle cx="27" cy="1060" r="2.1"/></g><g id="q57_2-b" class="n"><circle cx="80" cy="1060" r="2.1"/></g><g id="q57_2-c" class="n"><circle cx="134" cy="1060" r="2.1"/></g><g id="q57_2-d" class="n"><circle cx="187" cy="1060" r="2.1"/></g><g id="q57_2-f" class="n"><circle cx="134" cy="1100" r="2.1"/></g>
</g>

<g id="q57_3">
<text class="lb" x="218" y="1029">57.3)</text>
<g id="q57_3-edges">
<line class="ka" x1="388" y1="1012" x2="441" y2="1012"/><line class="ma" x1="441" y1="1012" x2="441" y2="1060"/><line class="ta" x1="388" y1="1012" x2="335" y2="1060"/><line class="s" x1="388" y1="1012" x2="388" y2="1060"/><line class="ka" x1="283" y1="1060" x2="230" y2="1060"/><line class="ka" x1="335" y1="1060" x2="283" y2="1060"/><line class="ka" x1="335" y1="1060" x2="388" y2="1060"/><line class="ka" x1="441" y1="1060" x2="388" y2="1060"/>
<path class="d" d="M377,1016 C352,1038 330,1050 245,1054"/>
</g>
<g id="q57_3-tl" class="n"><circle cx="388" cy="1012" r="2.1"/></g><g id="q57_3-tr" class="n"><circle cx="441" cy="1012" r="2.1"/></g><g id="q57_3-a" class="n"><circle cx="230" cy="1060" r="2.1"/></g><g id="q57_3-b" class="n"><circle cx="283" cy="1060" r="2.1"/></g><g id="q57_3-c" class="n"><circle cx="335" cy="1060" r="2.1"/></g><g id="q57_3-d" class="n"><circle cx="388" cy="1060" r="2.1"/></g><g id="q57_3-e" class="n"><circle cx="441" cy="1060" r="2.1"/></g>
</g>

<g id="q57_4">
<text class="lb" x="473" y="1029">57.4)</text>
<g id="q57_4-edges">
<line class="ka" x1="492" y1="1052" x2="545" y2="1052"/><line class="ka" x1="545" y1="1052" x2="598" y2="1052"/><line class="ka" x1="652" y1="1052" x2="598" y2="1052"/><line class="ka" x1="705" y1="1052" x2="652" y2="1052"/><line class="ma" x1="598" y1="1052" x2="598" y2="1012"/><line class="ma" x1="598" y1="1052" x2="598" y2="1095"/>
<use href="#hB" transform="translate(598,1052) scale(-1,1)"/><use href="#hA" transform="translate(598,1052)"/><use href="#hB" transform="translate(598,1052) scale(1,-1)"/>
</g>
<g id="q57_4-t" class="n"><circle cx="598" cy="1012" r="2.1"/></g><g id="q57_4-a" class="n"><circle cx="492" cy="1052" r="2.1"/></g><g id="q57_4-b" class="n"><circle cx="545" cy="1052" r="2.1"/></g><g id="q57_4-c" class="n"><circle cx="598" cy="1052" r="2.1"/></g><g id="q57_4-d" class="n"><circle cx="652" cy="1052" r="2.1"/></g><g id="q57_4-e" class="n"><circle cx="705" cy="1052" r="2.1"/></g><g id="q57_4-f" class="n"><circle cx="598" cy="1095" r="2.1"/></g>
</g>

<g id="q57_5">
<text class="lb" x="738" y="1029">57.5)</text>
<g id="q57_5-edges">
<line class="ka" x1="765" y1="1060" x2="818" y2="1060"/><line class="ka" x1="818" y1="1060" x2="872" y2="1060"/><line class="ka" x1="872" y1="1060" x2="925" y2="1060"/><line class="ka" x1="925" y1="1060" x2="978" y2="1060"/><line class="ta" x1="872" y1="1060" x2="820" y2="1012"/><line class="ta" x1="925" y1="1012" x2="872" y2="1060"/>
<path class="d" d="M834,1021 C858,1050 888,1050 912,1021"/><path class="d" d="M776,1054 C822,1054 832,1046 824,1024"/><path class="d" d="M916,1018 C902,1040 905,1053 930,1054 L968,1054"/>
</g>
<g id="q57_5-t1" class="n"><circle cx="820" cy="1012" r="2.1"/></g><g id="q57_5-t2" class="n"><circle cx="925" cy="1012" r="2.1"/></g><g id="q57_5-a" class="n"><circle cx="765" cy="1060" r="2.1"/></g><g id="q57_5-b" class="n"><circle cx="818" cy="1060" r="2.1"/></g><g id="q57_5-c" class="n"><circle cx="872" cy="1060" r="2.1"/></g><g id="q57_5-d" class="n"><circle cx="925" cy="1060" r="2.1"/></g><g id="q57_5-e" class="n"><circle cx="978" cy="1060" r="2.1"/></g>
</g>

<g id="q57_6">
<text class="lb" x="8" y="1159">57.6)</text>
<g id="q57_6-edges">
<line class="ka" x1="35" y1="1195" x2="89" y2="1195"/><line class="ka" x1="89" y1="1195" x2="142" y2="1195"/><line class="ka" x1="142" y1="1195" x2="195" y2="1195"/><line class="ka" x1="195" y1="1195" x2="248" y2="1195"/><line class="ta" x1="142" y1="1195" x2="90" y2="1142"/><line class="ta" x1="193" y1="1142" x2="142" y2="1195"/>
<path class="d" d="M47,1189 C100,1189 114,1184 108,1156"/><path class="d" d="M188,1158 C176,1184 186,1190 232,1190"/><path class="d" d="M98,1202 Q140,1230 186,1202"/>
</g>
<g id="q57_6-t1" class="n"><circle cx="90" cy="1142" r="2.1"/></g><g id="q57_6-t2" class="n"><circle cx="193" cy="1142" r="2.1"/></g><g id="q57_6-a" class="n"><circle cx="35" cy="1195" r="2.1"/></g><g id="q57_6-b" class="n"><circle cx="89" cy="1195" r="2.1"/></g><g id="q57_6-c" class="n"><circle cx="142" cy="1195" r="2.1"/></g><g id="q57_6-d" class="n"><circle cx="195" cy="1195" r="2.1"/></g><g id="q57_6-e" class="n"><circle cx="248" cy="1195" r="2.1"/></g>
</g>

<g id="q58_1">
<text class="lb" x="278" y="1159">58.1)</text>
<g id="q58_1-edges">
<line class="ka" x1="367" y1="1142" x2="420" y2="1142"/><line class="ka" x1="474" y1="1142" x2="420" y2="1142"/><line class="ma" x1="474" y1="1195" x2="474" y2="1142"/><line class="ta" x1="315" y1="1195" x2="367" y2="1142"/><line class="ta" x1="420" y1="1195" x2="367" y2="1142"/><line class="s" x1="367" y1="1142" x2="367" y2="1195"/><line class="s" x1="420" y1="1142" x2="420" y2="1195"/><line class="ka" x1="367" y1="1195" x2="315" y2="1195"/><line class="ka" x1="367" y1="1195" x2="420" y2="1195"/><line class="ka" x1="420" y1="1195" x2="474" y2="1195"/>
</g>
<g id="q58_1-ta" class="n"><circle cx="367" cy="1142" r="2.1"/></g><g id="q58_1-tb" class="n"><circle cx="420" cy="1142" r="2.1"/></g><g id="q58_1-tc" class="n"><circle cx="474" cy="1142" r="2.1"/></g><g id="q58_1-a" class="n"><circle cx="315" cy="1195" r="2.1"/></g><g id="q58_1-b" class="n"><circle cx="367" cy="1195" r="2.1"/></g><g id="q58_1-c" class="n"><circle cx="420" cy="1195" r="2.1"/></g><g id="q58_1-d" class="n"><circle cx="474" cy="1195" r="2.1"/></g>
</g>

<g id="q58_2">
<text class="lb" x="535" y="1159">58.2)</text>
<g id="q58_2-edges">
<line class="ka" x1="660" y1="1142" x2="713" y2="1142"/><line class="ma" x1="713" y1="1142" x2="713" y2="1195"/><line class="ta" x1="660" y1="1142" x2="607" y2="1195"/><line class="s" x1="660" y1="1142" x2="660" y2="1195"/><line class="ka" x1="607" y1="1195" x2="553" y2="1195"/><line class="ka" x1="607" y1="1195" x2="660" y2="1195"/><line class="ka" x1="713" y1="1195" x2="660" y2="1195"/><line class="ma" x1="607" y1="1235" x2="607" y2="1195"/>
<path class="d" d="M650,1146 C628,1170 610,1186 566,1189"/><use href="#hA" transform="translate(607,1195) scale(-1,-1)"/>
</g>
<g id="q58_2-ta" class="n"><circle cx="660" cy="1142" r="2.1"/></g><g id="q58_2-tb" class="n"><circle cx="713" cy="1142" r="2.1"/></g><g id="q58_2-a" class="n"><circle cx="553" cy="1195" r="2.1"/></g><g id="q58_2-b" class="n"><circle cx="607" cy="1195" r="2.1"/></g><g id="q58_2-c" class="n"><circle cx="660" cy="1195" r="2.1"/></g><g id="q58_2-d" class="n"><circle cx="713" cy="1195" r="2.1"/></g><g id="q58_2-f" class="n"><circle cx="607" cy="1235" r="2.1"/></g>
</g>

<g id="q58_3">
<text class="lb" x="775" y="1159">58.3)</text>
<g id="q58_3-edges">
<line class="ma" x1="858" y1="1142" x2="858" y2="1175"/><line class="ka" x1="858" y1="1175" x2="805" y2="1175"/><line class="ka" x1="858" y1="1175" x2="912" y2="1175"/><line class="ka" x1="912" y1="1175" x2="966" y2="1175"/><line class="ma" x1="805" y1="1228" x2="805" y2="1175"/><line class="ma" x1="858" y1="1228" x2="858" y2="1175"/><line class="ka" x1="858" y1="1228" x2="805" y2="1228"/><line class="s" x1="805" y1="1175" x2="858" y2="1228"/>
<use href="#hA0" transform="translate(858,1175) scale(-1,1)"/><use href="#hB0" transform="translate(858,1175)"/>
</g>
<g id="q58_3-t" class="n"><circle cx="858" cy="1142" r="2.1"/></g><g id="q58_3-a" class="n"><circle cx="805" cy="1175" r="2.1"/></g><g id="q58_3-b" class="n"><circle cx="858" cy="1175" r="2.1"/></g><g id="q58_3-c" class="n"><circle cx="912" cy="1175" r="2.1"/></g><g id="q58_3-d" class="n"><circle cx="966" cy="1175" r="2.1"/></g><g id="q58_3-p" class="n"><circle cx="805" cy="1228" r="2.1"/></g><g id="q58_3-q" class="n"><circle cx="858" cy="1228" r="2.1"/></g>
</g>

<g id="q58_4">
<text class="lb" x="8" y="1309">58.4)</text>
<g id="q58_4-edges">
<line class="ka" x1="187" y1="1285" x2="134" y2="1285"/><line class="ma" x1="134" y1="1338" x2="134" y2="1285"/><line class="ma" x1="187" y1="1338" x2="187" y2="1285"/><line class="s" x1="134" y1="1285" x2="187" y2="1338"/><line class="ka" x1="27" y1="1338" x2="80" y2="1338"/><line class="ka" x1="80" y1="1338" x2="134" y2="1338"/><line class="ka" x1="187" y1="1338" x2="134" y2="1338"/><line class="ma" x1="134" y1="1338" x2="134" y2="1380"/>
<use href="#hC" transform="translate(134,1338) scale(-1,1)"/><use href="#hB" transform="translate(134,1338) scale(-1,-1)"/>
</g>
<g id="q58_4-ta" class="n"><circle cx="134" cy="1285" r="2.1"/></g><g id="q58_4-tb" class="n"><circle cx="187" cy="1285" r="2.1"/></g><g id="q58_4-a" class="n"><circle cx="27" cy="1338" r="2.1"/></g><g id="q58_4-b" class="n"><circle cx="80" cy="1338" r="2.1"/></g><g id="q58_4-c" class="n"><circle cx="134" cy="1338" r="2.1"/></g><g id="q58_4-d" class="n"><circle cx="187" cy="1338" r="2.1"/></g><g id="q58_4-f" class="n"><circle cx="134" cy="1380" r="2.1"/></g>
</g>

<g id="q58_5">
<text class="lb" x="233" y="1309">58.5)</text>
<g id="q58_5-edges">
<line class="ka" x1="312" y1="1285" x2="365" y2="1285"/><line class="ma" x1="312" y1="1285" x2="312" y2="1338"/><line class="ma" x1="365" y1="1285" x2="365" y2="1338"/><line class="s" x1="312" y1="1285" x2="365" y2="1338"/><line class="ka" x1="312" y1="1338" x2="258" y2="1338"/><line class="ka" x1="312" y1="1338" x2="365" y2="1338"/><line class="ka" x1="365" y1="1338" x2="418" y2="1338"/><line class="ka" x1="418" y1="1338" x2="472" y2="1338"/>
<use href="#hC" transform="translate(312,1338) scale(-1,1)"/><use href="#hD" transform="translate(365,1338)"/>
</g>
<g id="q58_5-ta" class="n"><circle cx="312" cy="1285" r="2.1"/></g><g id="q58_5-tb" class="n"><circle cx="365" cy="1285" r="2.1"/></g><g id="q58_5-a" class="n"><circle cx="258" cy="1338" r="2.1"/></g><g id="q58_5-b" class="n"><circle cx="312" cy="1338" r="2.1"/></g><g id="q58_5-c" class="n"><circle cx="365" cy="1338" r="2.1"/></g><g id="q58_5-d" class="n"><circle cx="418" cy="1338" r="2.1"/></g><g id="q58_5-e" class="n"><circle cx="472" cy="1338" r="2.1"/></g>
</g>

<g id="q58_6">
<text class="lb" x="505" y="1309">58.6)</text>
<g id="q58_6-edges">
<line class="ka" x1="593" y1="1285" x2="646" y2="1285"/><line class="ma" x1="593" y1="1338" x2="593" y2="1285"/><line class="ka" x1="646" y1="1338" x2="646" y2="1285" style="stroke-width:2"/><line class="s" x1="593" y1="1338" x2="646" y2="1285"/><line class="ka" x1="540" y1="1338" x2="593" y2="1338"/><line class="ka" x1="593" y1="1338" x2="646" y2="1338"/><line class="ka" x1="700" y1="1338" x2="646" y2="1338"/><line class="ka" x1="753" y1="1338" x2="700" y2="1338"/>
<use href="#hC" transform="translate(593,1338) scale(-1,1)"/><use href="#hD" transform="translate(646,1338)"/>
</g>
<g id="q58_6-ta" class="n"><circle cx="593" cy="1285" r="2.1"/></g><g id="q58_6-tb" class="n"><circle cx="646" cy="1285" r="2.1"/></g><g id="q58_6-a" class="n"><circle cx="540" cy="1338" r="2.1"/></g><g id="q58_6-b" class="n"><circle cx="593" cy="1338" r="2.1"/></g><g id="q58_6-c" class="n"><circle cx="646" cy="1338" r="2.1"/></g><g id="q58_6-d" class="n"><circle cx="700" cy="1338" r="2.1"/></g><g id="q58_6-e" class="n"><circle cx="753" cy="1338" r="2.1"/></g>
</g>

<g id="q58_7">
<text class="lb" x="788" y="1309">58.7)</text>
<g id="q58_7-edges">
<line class="ma" x1="912" y1="1285" x2="912" y2="1320"/><line class="ka" x1="859" y1="1320" x2="912" y2="1320"/><line class="ma" x1="859" y1="1320" x2="859" y2="1378"/><line class="ma" x1="912" y1="1320" x2="912" y2="1378"/><line class="s" x1="859" y1="1320" x2="912" y2="1378"/><line class="ka" x1="859" y1="1378" x2="805" y2="1378"/><line class="ka" x1="859" y1="1378" x2="912" y2="1378"/><line class="ka" x1="912" y1="1378" x2="966" y2="1378"/>
<use href="#hG" transform="translate(859,1378) scale(-1,1)"/><use href="#hF" transform="translate(912,1378)"/>
</g>
<g id="q58_7-t" class="n"><circle cx="912" cy="1285" r="2.1"/></g><g id="q58_7-ma" class="n"><circle cx="859" cy="1320" r="2.1"/></g><g id="q58_7-mb" class="n"><circle cx="912" cy="1320" r="2.1"/></g><g id="q58_7-a" class="n"><circle cx="805" cy="1378" r="2.1"/></g><g id="q58_7-b" class="n"><circle cx="859" cy="1378" r="2.1"/></g><g id="q58_7-c" class="n"><circle cx="912" cy="1378" r="2.1"/></g><g id="q58_7-d" class="n"><circle cx="966" cy="1378" r="2.1"/></g>
</g>
</svg>
